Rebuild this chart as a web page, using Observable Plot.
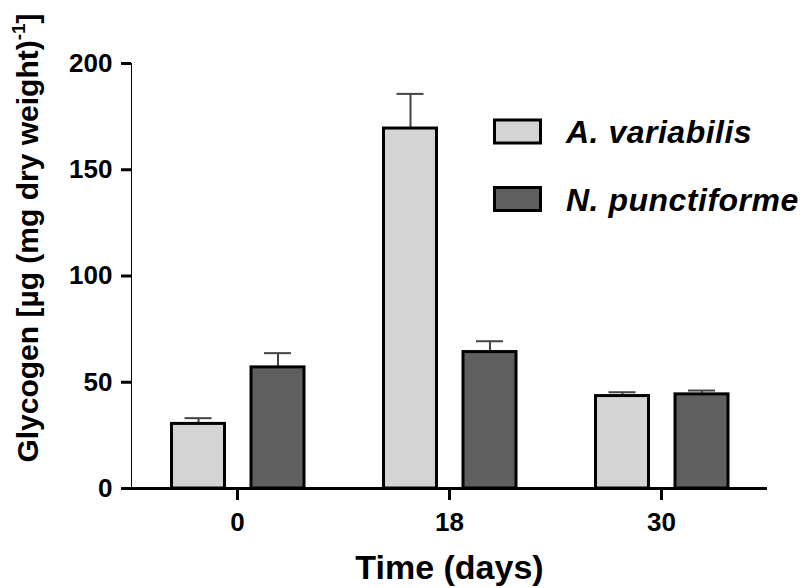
<!DOCTYPE html>
<html><head><meta charset="utf-8">
<script src="https://cdn.jsdelivr.net/npm/d3@7"></script>
<script src="https://cdn.jsdelivr.net/npm/@observablehq/plot@0.6"></script>
<style>
body{margin:0;background:#fff;}
#chart svg g[aria-label^="y-axis"] line,
#chart svg g[aria-label^="y-axis"] path,
#chart svg g[aria-label^="x-axis"] line,
#chart svg g[aria-label^="x-axis"] path,
#chart svg g[aria-label="frame"] line,
#chart svg g[aria-label="frame"] path,
#chart svg g[aria-label="frame"] rect{stroke-width:3px;}
</style></head>
<body><div id="chart"></div>
<script>
const days = ["0", "18", "30"];
const species = ["A. variabilis", "N. punctiforme"];
const meanA = [30.4, 169.4, 43.5];
const errA = [2.7, 16.3, 1.8];
const meanN = [57.0, 64.2, 44.3];
const errN = [6.7, 5.1, 1.8];
const yTicks = [0, 50, 100, 150, 200];
const fills = ["#d4d4d4", "#5f5f5f"];
const xLabel = "Time (days)";
const yLabelMain = "Glycogen [µg (mg dry weight)";
const yLabelSup = "-1";
const yLabelEnd = "]";

const data = days.flatMap((d, i) => [
  {day: d, sp: species[0], v: meanA[i], e: errA[i]},
  {day: d, sp: species[1], v: meanN[i], e: errN[i]}
]);
const offsets = [-39, 40.5];

const marks = [];
species.forEach((s, k) => {
  const sub = data.filter(d => d.sp === s);
  marks.push(Plot.ruleX(sub, {x: "day", y1: "v", y2: d => d.v + d.e, dx: offsets[k], stroke: "#444", strokeWidth: 2}));
  marks.push(Plot.tickY(sub, {x: "day", y: d => d.v + d.e, dx: offsets[k], insetLeft: 92.5, insetRight: 92.5, stroke: "#444", strokeWidth: 2}));
  marks.push(Plot.barY(sub, {x: "day", y: "v", dx: offsets[k], insetLeft: 79.5, insetRight: 79.5, fill: fills[k], stroke: "black", strokeWidth: 3}));
});
marks.push(Plot.ruleY([0], {stroke: "black", strokeWidth: 3}));
marks.push(Plot.text([xLabel], {text: d => d, frameAnchor: "bottom", dy: 90, fontSize: 34, fontWeight: "bold"}));

const chart = Plot.plot({
  width: 811, height: 588,
  marginLeft: 131, marginRight: 44, marginTop: 63, marginBottom: 100,
  x: {domain: days, padding: 0, tickSize: 12, tickPadding: 12, label: null},
  y: {domain: [0, 200], ticks: yTicks, tickSize: 10, tickPadding: 9, label: null, line: true},
  style: {fontFamily: "'Liberation Sans', Arial, sans-serif", fontSize: "26px", fontWeight: "bold", color: "black", background: "white"},
  marks
});
document.getElementById("chart").appendChild(chart);

const svg = d3.select(chart);
svg.selectAll("g[aria-label^='y-axis'] path, g[aria-label^='y-axis'] line, g[aria-label^='x-axis'] path, g[aria-label^='x-axis'] line")
  .attr("stroke-width", 3);

// y label
const yl = svg.append("text")
  .attr("transform", "translate(38,238) rotate(-90)")
  .attr("text-anchor", "middle")
  .attr("font-size", 30).attr("font-weight", "bold")
  .attr("font-family", "'Liberation Sans', Arial, sans-serif")
  .attr("fill", "black");
yl.append("tspan").text(yLabelMain);
yl.append("tspan").attr("font-size", 19).attr("dy", -13).text(yLabelSup);
yl.append("tspan").attr("dy", 13).text(yLabelEnd);

// legend
const legY = [131.5, 199];
species.forEach((s, k) => {
  svg.append("rect").attr("x", 494.5).attr("y", legY[k] - 11.5).attr("width", 46).attr("height", 23)
    .attr("fill", fills[k]).attr("stroke", "black").attr("stroke-width", 3);
  svg.append("text").attr("x", 566).attr("y", legY[k]).attr("dy", "0.36em")
    .attr("text-anchor", "start")
    .attr("font-size", 32).attr("font-weight", "bold").attr("font-style", "italic")
    .attr("letter-spacing", "0.5px")
    .attr("font-family", "'Liberation Sans', Arial, sans-serif").attr("fill", "black")
    .text(s);
});
</script>
</body></html>
